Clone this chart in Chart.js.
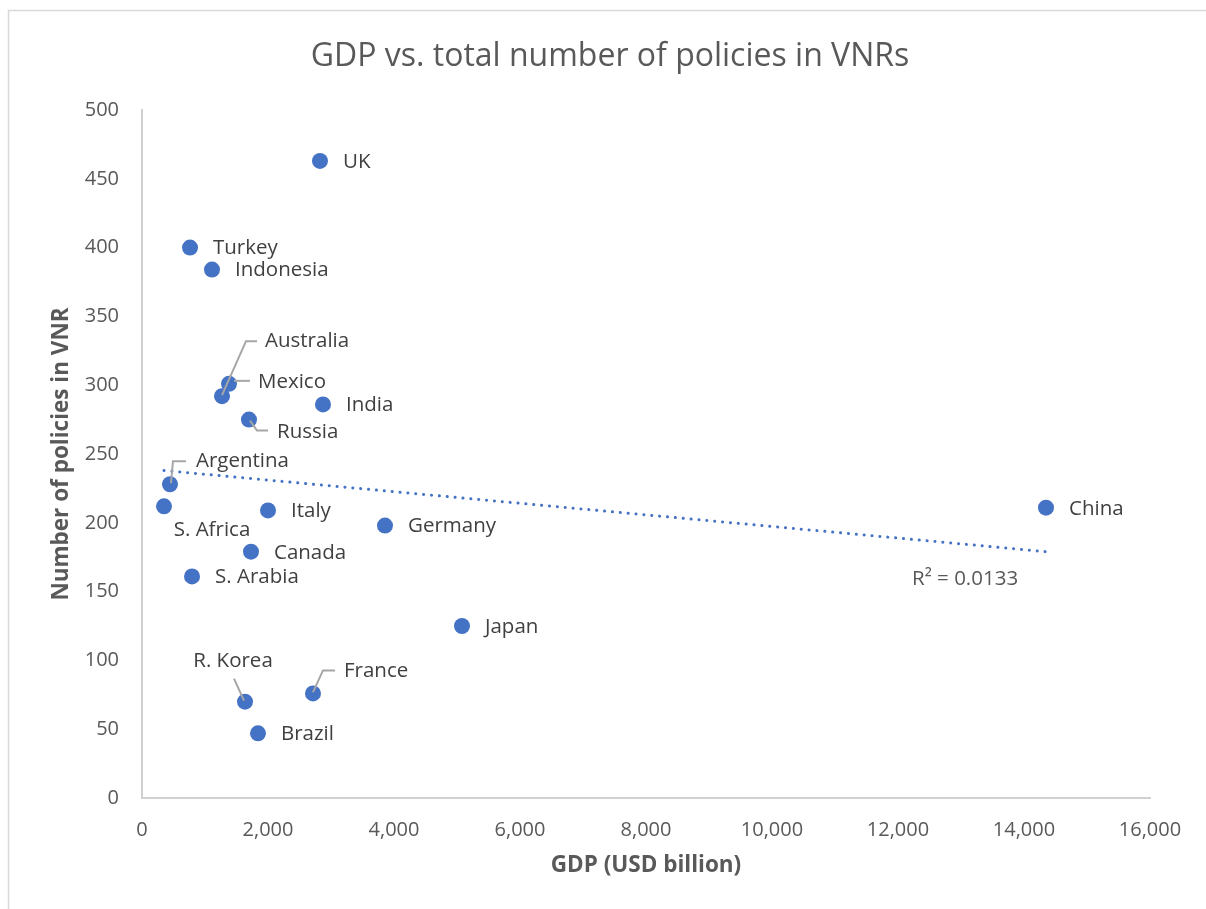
<!DOCTYPE html>
<html>
<head>
<meta charset="utf-8">
<script src="https://cdn.jsdelivr.net/npm/chart.js@4"></script>
<style>
  html, body { margin: 0; padding: 0; background: #fff; }
  #wrap { position: absolute; left: 0; top: 0; width: 1206px; height: 909px; }
</style>
</head>
<body>
<div id="wrap"><canvas id="chart"></canvas></div>
<script>
  // data
  var countries = ["UK", "Turkey", "Indonesia", "Mexico", "Australia", "Russia", "India", "Argentina",
    "S. Africa", "Italy", "Germany", "China", "Canada", "S. Arabia", "Japan", "R. Korea", "France", "Brazil"];
  var gdp = [2825, 762, 1111, 1381, 1270, 1698, 2873, 444, 349, 2000, 3857, 14349, 1730, 794, 5079, 1635, 2714, 1841];
  var policies = [463, 400, 384, 301, 292, 275, 286, 228, 212, 209, 198, 211, 179, 161, 125, 70, 76, 47];
  var trendX = [349, 14349];
  var trendY = [238, 179];
  var titleText = "GDP vs. total number of policies in VNRs";
  var rSquaredText = "R\u00b2 = 0.0133";

  var blue = "#4472C4";
  var fontFamily = "'Open Sans', sans-serif";

  // label placement, pixels relative to the point
  var defaultLabel = { dx: 23, dy: 1, align: "left" };
  var labelLayout = {
    "Australia": { dx: 43, dy: -55, align: "left", leader: [[35, -55], [24, -55], [0, -1]] },
    "Mexico": { dx: 29, dy: -2, align: "left", leader: [[21, -3], [5, -3]] },
    "Russia": { dx: 28, dy: 13, align: "left", leader: [[1, 1], [8, 11], [19, 11]] },
    "Argentina": { dx: 26, dy: -23, align: "left", leader: [[1, -1], [3, -23], [16, -23]] },
    "S. Africa": { dx: 48, dy: 24, align: "center" },
    "R. Korea": { dx: -12, dy: -41, align: "center", leader: [[-11, -23], [-1, -1]] },
    "France": { dx: 31, dy: -22, align: "left", leader: [[0, -1], [10, -23], [22, -23]] }
  };

  var points = countries.map(function (c, i) {
    return { x: gdp[i], y: policies[i] };
  });
  var trend = trendX.map(function (x, i) {
    return { x: x, y: trendY[i] };
  });

  // outer chart border + title, centred on the whole chart box
  var frame = {
    id: "frame",
    beforeDraw: function (chart) {
      var c = chart.ctx;
      c.save();
      c.fillStyle = "#fff";
      c.fillRect(0, 0, chart.width, chart.height);
      c.strokeStyle = "#d9d9d9";
      c.lineWidth = 1.5;
      c.beginPath();
      c.moveTo(8.5, chart.height);
      c.lineTo(8.5, 10.5);
      c.lineTo(chart.width, 10.5);
      c.stroke();
      c.fillStyle = "#595959";
      c.font = "32px " + fontFamily;
      c.textAlign = "center";
      c.textBaseline = "middle";
      c.fillText(titleText, 610, 57);
      c.restore();
    }
  };

  var pointLabels = {
    id: "pointLabels",
    afterDatasetsDraw: function (chart) {
      var c = chart.ctx;
      var meta = chart.getDatasetMeta(1);
      c.save();
      c.font = "20.5px " + fontFamily;
      c.textBaseline = "middle";
      countries.forEach(function (name, i) {
        var el = meta.data[i];
        var lay = labelLayout[name] || defaultLabel;
        if (lay.leader) {
          c.strokeStyle = "#a6a6a6";
          c.lineWidth = 2;
          c.beginPath();
          lay.leader.forEach(function (p, k) {
            if (k === 0) c.moveTo(el.x + p[0], el.y + p[1]);
            else c.lineTo(el.x + p[0], el.y + p[1]);
          });
          c.stroke();
        }
        c.fillStyle = "#404040";
        c.textAlign = lay.align;
        c.fillText(name, el.x + lay.dx, el.y + lay.dy);
      });
      // R squared under the end of the trendline
      var tmeta = chart.getDatasetMeta(0);
      var end = tmeta.data[tmeta.data.length - 1];
      c.fillStyle = "#595959";
      c.textAlign = "left";
      c.fillText(rSquaredText, end.x - 134, end.y + 27);
      c.restore();
    }
  };

  new Chart(document.getElementById("chart"), {
    type: "scatter",
    data: {
      datasets: [
        {
          type: "line",
          label: "Linear trend",
          data: trend,
          showLine: true,
          borderColor: blue,
          borderWidth: 3,
          borderDash: [0.1, 7.8],
          borderCapStyle: "round",
          pointRadius: 0,
          fill: false,
          order: 2
        },
        {
          label: "Countries",
          data: points,
          backgroundColor: blue,
          borderColor: blue,
          borderWidth: 0,
          pointRadius: 8,
          pointHoverRadius: 8,
          order: 1
        }
      ]
    },
    options: {
      responsive: true,
      maintainAspectRatio: false,
      animation: false,
      layout: { padding: { left: 0, right: 56, top: 110, bottom: 0 } },
      plugins: {
        legend: { display: false },
        tooltip: { enabled: false },
        title: { display: false }
      },
      scales: {
        x: {
          type: "linear",
          min: 0,
          max: 16000,
          grid: { display: false, drawTicks: false },
          border: { display: true, color: "#d0d0d0", width: 2 },
          ticks: {
            stepSize: 2000,
            color: "#595959",
            padding: 20,
            font: { family: fontFamily, size: 20 }
          },
          title: {
            display: true,
            text: "GDP (USD billion)",
            color: "#595959",
            font: { family: fontFamily, size: 22.5, weight: "bold" },
            padding: { bottom: 30 }
          },
          afterFit: function (scale) { scale.height = 111; }
        },
        y: {
          min: 0,
          max: 500,
          grid: { display: false, drawTicks: false },
          border: { display: true, color: "#d0d0d0", width: 2 },
          ticks: {
            stepSize: 50,
            color: "#595959",
            padding: 23,
            font: { family: fontFamily, size: 20 }
          },
          title: {
            display: true,
            text: "Number of policies in VNR",
            color: "#595959",
            font: { family: fontFamily, size: 22.5, weight: "bold" },
            padding: { top: 48 }
          },
          afterFit: function (scale) { scale.width = 142; }
        }
      }
    },
    plugins: [frame, pointLabels]
  });
</script>
</body>
</html>
